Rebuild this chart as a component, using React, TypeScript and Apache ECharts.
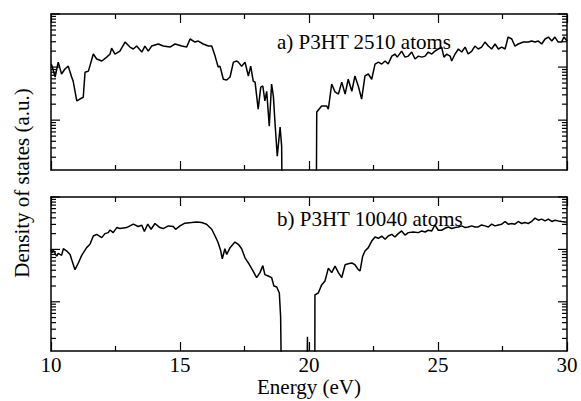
import React, { useEffect, useRef } from "react";
import * as echarts from "echarts";

// Panel a) P3HT 2510 atoms
const energyA = [10.0,10.03,10.16,10.28,10.41,10.54,10.67,10.80,10.86,11.00,11.12,11.25,11.32,11.45,
  11.64,11.77,11.97,12.16,12.29,12.35,12.48,12.67,12.87,13.06,13.19,13.32,13.52,13.64,13.77,13.90,
  14.16,14.35,14.61,14.81,15.07,15.26,15.39,15.58,15.71,15.90,16.10,16.23,16.36,16.48,16.55,
  16.68,16.81,16.94,17.07,17.20,17.26,17.39,17.52,17.65,17.74,17.84,17.91,18.03,18.13,18.21,18.29,18.36,18.46,18.55,18.62,18.68,18.77,18.88,18.94,18.98,
  20.27,20.30,20.49,20.69,20.75,20.88,21.01,21.14,21.27,21.40,21.52,21.66,21.78,21.91,22.04,
  22.17,22.30,22.43,22.56,22.69,22.82,22.95,23.07,23.21,23.33,23.42,23.59,23.72,23.85,23.98,24.11,
  24.24,24.37,24.50,24.62,24.76,24.88,25.01,25.14,25.23,25.34,25.47,25.53,25.66,25.79,25.92,26.05,
  26.17,26.31,26.43,26.56,26.69,26.82,26.95,27.08,27.21,27.34,27.47,27.60,27.72,27.86,27.98,
  28.11,28.31,28.50,28.63,28.76,28.89,29.02,29.15,29.28,29.41,29.53,29.66,29.79,29.88,30.0];
const dosA = [11.4,10.9,6.5,12.4,7.4,9.2,10.4,6.5,5.4,2.3,2.5,2.7,8.0,8.4,
  17.6,14.2,13.0,15.4,17.6,22.8,17.6,20.0,29.6,23.8,21.9,24.9,19.2,24.9,20.0,24.9,
  27.2,24.9,23.8,27.2,24.9,23.8,33.8,29.6,30.9,27.2,24.9,24.9,16.1,10,10.4,
  5.9,5.7,6.5,12.4,13.0,12.4,10.4,12.4,6.8,10.4,5.4,5.2,1.61,4.2,4.4,2.3,3.5,0.77,4.8,2.8,0.92,0.21,0.74,0.32,0.001,
  0.001,1.42,1.84,1.84,1.61,4.8,3.4,3.1,5.2,3.1,5.9,3.5,6.8,4.4,2.5,
  6.8,7.4,5.9,11.4,12.4,11.4,13.0,11.4,16.1,17.6,15.4,20.0,15.4,16.1,19.2,14.2,
  16.1,15.4,16.1,19.2,17.6,20.0,21.9,23.8,15.4,17.6,16.1,13.0,17.6,21.9,19.2,23.8,
  17.6,20.0,24.9,21.9,23.8,29.6,24.9,21.9,27.2,21.9,23.8,21.9,36.8,33.8,24.9,
  27.2,29.6,29.6,30.9,29.6,30.9,27.2,33.8,36.8,30.9,36.8,29.6,29.6,36.8,30.9];

// Panel b) P3HT 10040 atoms
const energyB = [10.0,10.03,10.09,10.22,10.28,10.41,10.48,10.61,10.74,10.80,10.93,11.06,11.19,11.38,11.51,11.64,11.77,11.97,
  12.09,12.22,12.29,12.41,12.55,12.67,12.93,13.19,13.38,13.52,13.62,13.75,13.88,14.03,14.22,14.35,14.55,14.74,14.83,15.0,
  15.19,15.45,15.65,15.84,16.03,16.23,16.36,16.48,16.58,16.64,16.74,16.81,16.94,17.13,17.26,17.39,17.52,17.65,17.84,17.97,
  18.10,18.21,18.29,18.42,18.55,18.64,18.75,18.85,18.90,18.97,19.89,19.94,20.0,20.22,20.23,
  20.36,20.49,20.62,20.75,20.88,21.01,21.14,21.27,21.40,21.52,21.66,21.78,21.91,21.98,22.08,22.17,22.30,22.43,22.56,22.69,
  22.82,22.95,23.07,23.21,23.33,23.46,23.59,23.72,23.85,24.04,24.24,24.37,24.50,24.62,24.76,24.88,25.01,25.14,25.27,25.40,
  25.53,25.66,25.79,25.92,26.05,26.17,26.31,26.43,26.56,26.69,26.82,26.95,27.08,27.21,27.34,27.47,27.60,27.72,27.86,27.98,
  28.11,28.24,28.37,28.50,28.63,28.76,28.89,29.02,29.15,29.28,29.41,29.53,29.66,29.79,29.92,30.0];
const dosB = [10,8.6,9.7,7.4,8.4,7.7,10.3,9.3,8.0,6.4,4.1,5.5,7.7,10.8,12.5,18.0,19.4,16.8,
  20.0,20.9,23.5,20.9,26.1,25.0,26.1,30.3,27.3,28.9,21.9,30.3,24.2,31.2,26.1,25.0,28.1,27.3,24.2,28.1,
  31.6,32.6,33.5,32.6,30.3,24.2,18.0,13.4,9.3,6.6,10.3,8.0,10.8,13.8,12.5,10.3,6.9,5.5,3.8,2.9,
  3.6,4.9,3.3,3.1,2.9,2.0,1.92,1.47,0.52,0.001,0.001,0.215,0.001,0.001,1.36,
  1.47,2.1,2.5,4.4,3.6,4.8,3.6,2.9,5.1,5.3,5.5,5.1,4.1,3.9,7.4,9.3,10.8,14.4,17.2,16.3,
  18.0,15.6,18.0,19.4,17.2,20.0,22.5,18.8,20.9,21.5,20.9,22.5,21.5,23.2,22.5,29.3,23.2,23.2,25.3,26.8,
  25.0,26.1,26.8,28.1,26.1,26.8,28.1,26.8,26.8,29.3,28.1,26.8,30.3,28.1,29.3,30.3,34.1,30.3,31.2,30.3,
  34.1,31.2,32.6,31.2,34.1,39.5,36.1,37.8,35.0,37.8,34.1,36.1,35.0,34.1,33.5,33.0];

// Axis settings / tick values
const X_MIN = 10;
const X_MAX = 30;
const X_INTERVAL = 5;
const Y_MIN = 0.115;
const Y_MAX = 100;
const yMajorTicks = [1, 10, 100];
const yMinorTicks = [0.2, 0.3, 0.4, 0.5, 0.6, 0.7, 0.8, 0.9, 2, 3, 4, 5, 6, 7, 8, 9, 20, 30, 40, 50, 60, 70, 80, 90];

const titleA = "a) P3HT 2510 atoms";
const titleB = "b) P3HT 10040 atoms";
const xName = "Energy (eV)";
const yName = "Density of states (a.u.)";

const FONT = "Liberation Serif";

function zip(xs: number[], ys: number[]) {
  const n = Math.min(xs.length, ys.length);
  const out: number[][] = [];
  for (let i = 0; i < n; i++) out.push([xs[i], ys[i]]);
  return out;
}

export default function App() {
  const ref = useRef<HTMLDivElement>(null);
  useEffect(() => {
    if (!ref.current) return;
    const chart = echarts.init(ref.current, null, { renderer: "svg" });

    const tickData = [
      ...yMajorTicks.map((v) => [X_MIN, v, 1]),
      ...yMinorTicks.map((v) => [X_MIN, v, 0]),
    ];

    const renderTicks = (params: any, api: any) => {
      const v = api.value(1);
      const major = api.value(2) === 1;
      const len = major ? 9 : 5;
      const pL = api.coord([X_MIN, v]);
      const pR = api.coord([X_MAX, v]);
      const st = { stroke: "#000", lineWidth: 1.2 };
      return {
        type: "group",
        children: [
          { type: "line", shape: { x1: pL[0], y1: pL[1], x2: pL[0] + len, y2: pL[1] }, style: st },
          { type: "line", shape: { x1: pR[0] - len, y1: pR[1], x2: pR[0], y2: pR[1] }, style: st },
        ],
      };
    };

    const xAxisBase = (gridIndex: number, position: string, showLabel: boolean) => ({
      type: "value",
      gridIndex,
      position,
      min: X_MIN,
      max: X_MAX,
      interval: X_INTERVAL,
      axisLine: { show: true, onZero: false, lineStyle: { color: "#000", width: 1.5 } },
      axisTick: { show: true, inside: true, length: 9, lineStyle: { color: "#000", width: 1.2 } },
      minorTick: { show: true, splitNumber: 2, length: 5, lineStyle: { color: "#000", width: 1.2 } },
      splitLine: { show: false },
      axisLabel: {
        show: showLabel,
        color: "#000",
        fontFamily: FONT,
        fontSize: 21,
        margin: 3,
      },
    });

    const yAxisBase = (gridIndex: number, position: string) => ({
      type: "log",
      logBase: 10,
      gridIndex,
      position,
      min: Y_MIN,
      max: Y_MAX,
      axisLine: { show: true, onZero: false, lineStyle: { color: "#000", width: 1.5 } },
      axisTick: { show: false },
      minorTick: { show: false },
      splitLine: { show: false },
      axisLabel: { show: false },
    });

    const lineSeries = (xi: number, yi: number, data: number[][]) => ({
      type: "line",
      xAxisIndex: xi,
      yAxisIndex: yi,
      data,
      symbol: "none",
      clip: true,
      lineStyle: { color: "#000", width: 1.5 },
      z: 3,
    });

    const textStyle = (text: string, align: string) => ({
      text,
      font: `21px ${FONT}`,
      fill: "#000",
      align,
      verticalAlign: "middle",
      textAlign: align,
      textVerticalAlign: "middle",
    });

    const option: any = {
      animation: false,
      backgroundColor: "#fff",
      textStyle: { fontFamily: FONT },
      grid: [
        { left: 51, top: 14, width: 516, height: 156 },
        { left: 51, top: 197, width: 516, height: 154 },
      ],
      xAxis: [
        xAxisBase(0, "bottom", false),
        xAxisBase(0, "top", false),
        xAxisBase(1, "bottom", true),
        xAxisBase(1, "top", false),
      ],
      yAxis: [
        yAxisBase(0, "left"),
        yAxisBase(0, "right"),
        yAxisBase(1, "left"),
        yAxisBase(1, "right"),
      ],
      series: [
        lineSeries(0, 0, zip(energyA, dosA)),
        lineSeries(2, 2, zip(energyB, dosB)),
        {
          type: "custom",
          xAxisIndex: 0,
          yAxisIndex: 0,
          data: tickData,
          encode: { x: 0, y: 1 },
          renderItem: renderTicks,
          silent: true,
        },
        {
          type: "custom",
          xAxisIndex: 2,
          yAxisIndex: 2,
          data: tickData,
          encode: { x: 0, y: 1 },
          renderItem: renderTicks,
          silent: true,
        },
      ],
      graphic: [
        { type: "text", x: 277, y: 42, style: textStyle(titleA, "left") },
        { type: "text", x: 277, y: 219, style: textStyle(titleB, "left") },
        { type: "text", x: 309, y: 387, style: textStyle(xName, "center") },
        { type: "text", x: 22, y: 183, rotation: Math.PI / 2, style: textStyle(yName, "center") },
      ],
    };

    chart.setOption(option);
    return () => chart.dispose();
  }, []);

  return (
    <div
      ref={ref}
      style={{ position: "fixed", left: 0, top: 0, width: 581, height: 401, background: "#fff" }}
    />
  );
}
